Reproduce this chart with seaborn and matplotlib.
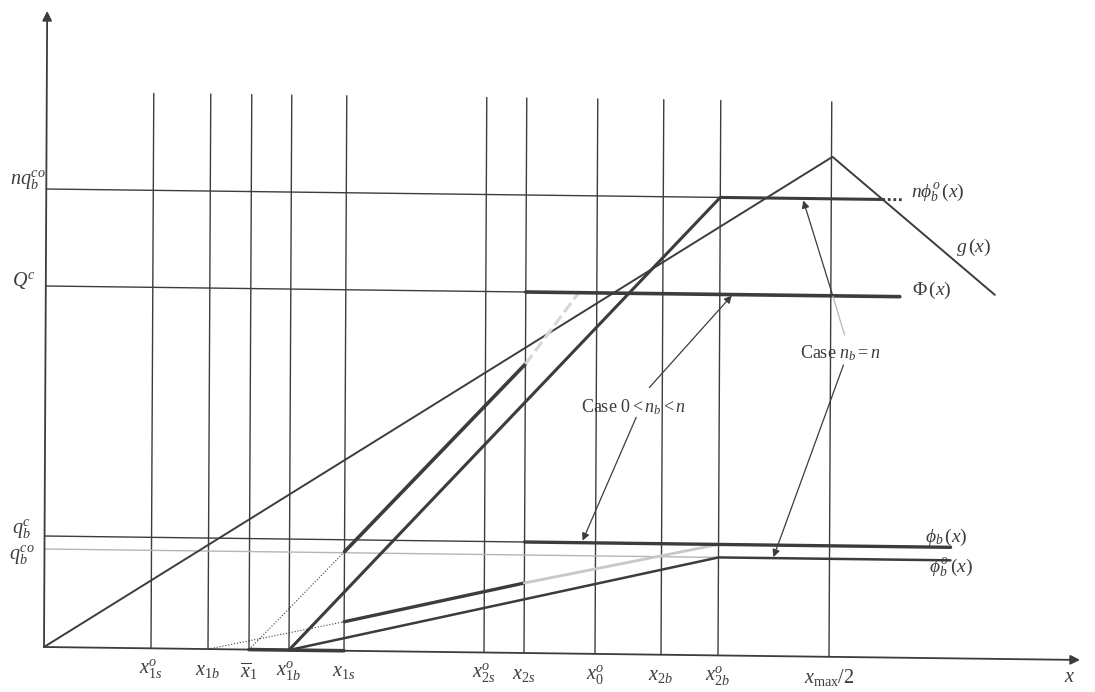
import numpy as np
import matplotlib
matplotlib.use("Agg")
import matplotlib.pyplot as plt
import matplotlib.transforms as mtransforms
import seaborn as sns

# vertical reference lines (positions along x, in drawing units)
v_pos = [107, 164, 205, 245, 300, 440, 480, 551, 617, 674, 785]
v_labels = [r"$x_{1s}^{o}$", r"$x_{1b}$", r"$\overline{x}_{1}$", r"$x_{1b}^{o}$", r"$x_{1s}$",
            r"$x_{2s}^{o}$", r"$x_{2s}$", r"$x_{0}^{o}$", r"$x_{2b}$", r"$x_{2b}^{o}$",
            r"$x_{\max}/2$"]
v_top = 555

# horizontal reference levels
h_vals = [458, 361, 111, 98]
h_labels = [r"$nq_{b}^{co}$", r"$Q^{c}$", r"$q_{b}^{c}$", r"$q_{b}^{co}$"]
h_ends = [674, 480, 480, 674]

# curves
g_x, g_y = [0, 786, 949], [0, 500, 364]
nphi_x, nphi_y = [245, 674, 836], [0, 458, 458]
Phi_rise_x, Phi_rise_y = [300, 480], [99, 289]
Phi_dot_x, Phi_dot_y = [205, 300], [0, 99]
Phi_gray_x, Phi_gray_y = [480, 533], [289, 361]
Phi_flat_x, Phi_flat_y = [480, 854], [361, 361]
phib_rise_x, phib_rise_y = [300, 480], [29, 70]
phib_dot_x, phib_dot_y = [164, 300], [0, 29]
phib_gray_x, phib_gray_y = [480, 674], [70, 111]
phib_flat_x, phib_flat_y = [480, 906], [111, 111]
phibo_x, phibo_y = [245, 674, 906], [0, 98, 98]

sns.set_theme(style="white")
plt.rcParams["font.family"] = ["Liberation Serif", "DejaVu Serif"]
plt.rcParams["mathtext.fontset"] = "custom"
plt.rcParams["mathtext.rm"] = "Liberation Serif"
plt.rcParams["mathtext.it"] = "Liberation Serif:italic"
plt.rcParams["mathtext.bf"] = "Liberation Serif:bold"

fig = plt.figure(figsize=(10.95, 6.92), dpi=100)
ax = fig.add_axes([0, 0, 1, 1])
ax.set_axis_off()

# the scan is slightly skewed
tilt = mtransforms.Affine2D(np.array([[1, 0.005, 0], [-0.0125, 1, 0], [0, 0, 1]])) + ax.transData

dark = "#3c3c3c"
light = "#b5b5b5"

# reference lines
for xv in v_pos:
    ax.plot([xv, xv], [0, v_top], color=dark, lw=1.0, transform=tilt)
for yv, xe in zip(h_vals, h_ends):
    c = light if yv == 98 else dark
    ax.plot([0, xe], [yv, yv], color=c, lw=1.0, transform=tilt)


def seg(x, y, lw, color=dark, ls="-"):
    sns.lineplot(x=x, y=y, ax=ax, color=color, lw=lw, ls=ls, sort=False,
                 estimator=None, transform=tilt)


seg(g_x, g_y, 1.4)
seg(nphi_x, nphi_y, 2.2)
seg([836, 856], [458, 458], 2.0, ls=(0, (1, 1)))
seg(Phi_rise_x, Phi_rise_y, 2.6)
seg(Phi_dot_x, Phi_dot_y, 0.8, ls=":")
seg(Phi_gray_x, Phi_gray_y, 2.2, color="#d6d6d6", ls="--")
seg(Phi_flat_x, Phi_flat_y, 2.6)
seg(phib_rise_x, phib_rise_y, 2.4)
seg(phib_dot_x, phib_dot_y, 0.8, ls=":")
seg(phib_gray_x, phib_gray_y, 2.0, color="#c8c8c8")
seg(phib_flat_x, phib_flat_y, 2.4)
seg(phibo_x, phibo_y, 1.8)
seg([205, 300], [0, 0], 2.6)

# axes with arrows
arrow = dict(arrowstyle="-|>", color=dark, lw=1.3, mutation_scale=14, shrinkA=0, shrinkB=0)
ax.annotate("", xy=(1036, 0), xytext=(0, 0), xycoords=tilt, textcoords=tilt, arrowprops=arrow)
ax.annotate("", xy=(0, 636), xytext=(0, 0), xycoords=tilt, textcoords=tilt, arrowprops=arrow)

fs = 14.5
for xv, lab in zip(v_pos, v_labels):
    ax.text(xv, -21, lab, transform=tilt, ha="center", va="center", fontsize=fs, color=dark)
ax.text(1026, -18, r"$x$", transform=tilt, ha="center", va="center", fontsize=fs, color=dark)

h_lab_pos = [(-18, 466), (-22, 366), (-23, 117), (-23, 91)]
for (tx, ty), lab in zip(h_lab_pos, h_labels):
    ax.text(tx, ty, lab, transform=tilt, ha="center", va="center", fontsize=fs, color=dark)

rfs = 14
ax.text(892, 465, r"$n\phi_{b}^{o}\,(x)$", transform=tilt, ha="center", va="center", fontsize=rfs, color=dark)
ax.text(927, 411, r"$g\,(x)$", transform=tilt, ha="center", va="center", fontsize=rfs, color=dark)
ax.text(886, 368, r"$\Phi\,(x)$", transform=tilt, ha="center", va="center", fontsize=rfs, color=dark)
ax.text(902, 121, r"$\phi_{b}\,(x)$", transform=tilt, ha="center", va="center", fontsize=rfs, color=dark)
ax.text(907, 90, r"$\phi_{b}^{o}\,(x)$", transform=tilt, ha="center", va="center", fontsize=rfs, color=dark)

ax.text(588, 247, r"Case $0 < n_{b} < n$", transform=tilt, ha="center", va="center", fontsize=13, color=dark)
ax.text(795, 304, r"Case $n_{b} = n$", transform=tilt, ha="center", va="center", fontsize=13, color=dark)

small = dict(arrowstyle="-|>", color=dark, lw=0.9, mutation_scale=11, shrinkA=0, shrinkB=0)
ax.annotate("", xy=(686, 360), xytext=(604, 267), xycoords=tilt, textcoords=tilt, arrowprops=small)
ax.annotate("", xy=(538, 113), xytext=(591, 237), xycoords=tilt, textcoords=tilt, arrowprops=small)
ax.annotate("", xy=(757, 456), xytext=(787, 361), xycoords=tilt, textcoords=tilt, arrowprops=small)
seg([799, 787], [322, 361], 1.0, color="#bdbdbd")
ax.annotate("", xy=(729, 99), xytext=(798, 292), xycoords=tilt, textcoords=tilt, arrowprops=small)

ax.set_xlim(-44, 1051)
ax.set_ylim(-45, 647)

fig.savefig("out.png", dpi=100, facecolor="white")
